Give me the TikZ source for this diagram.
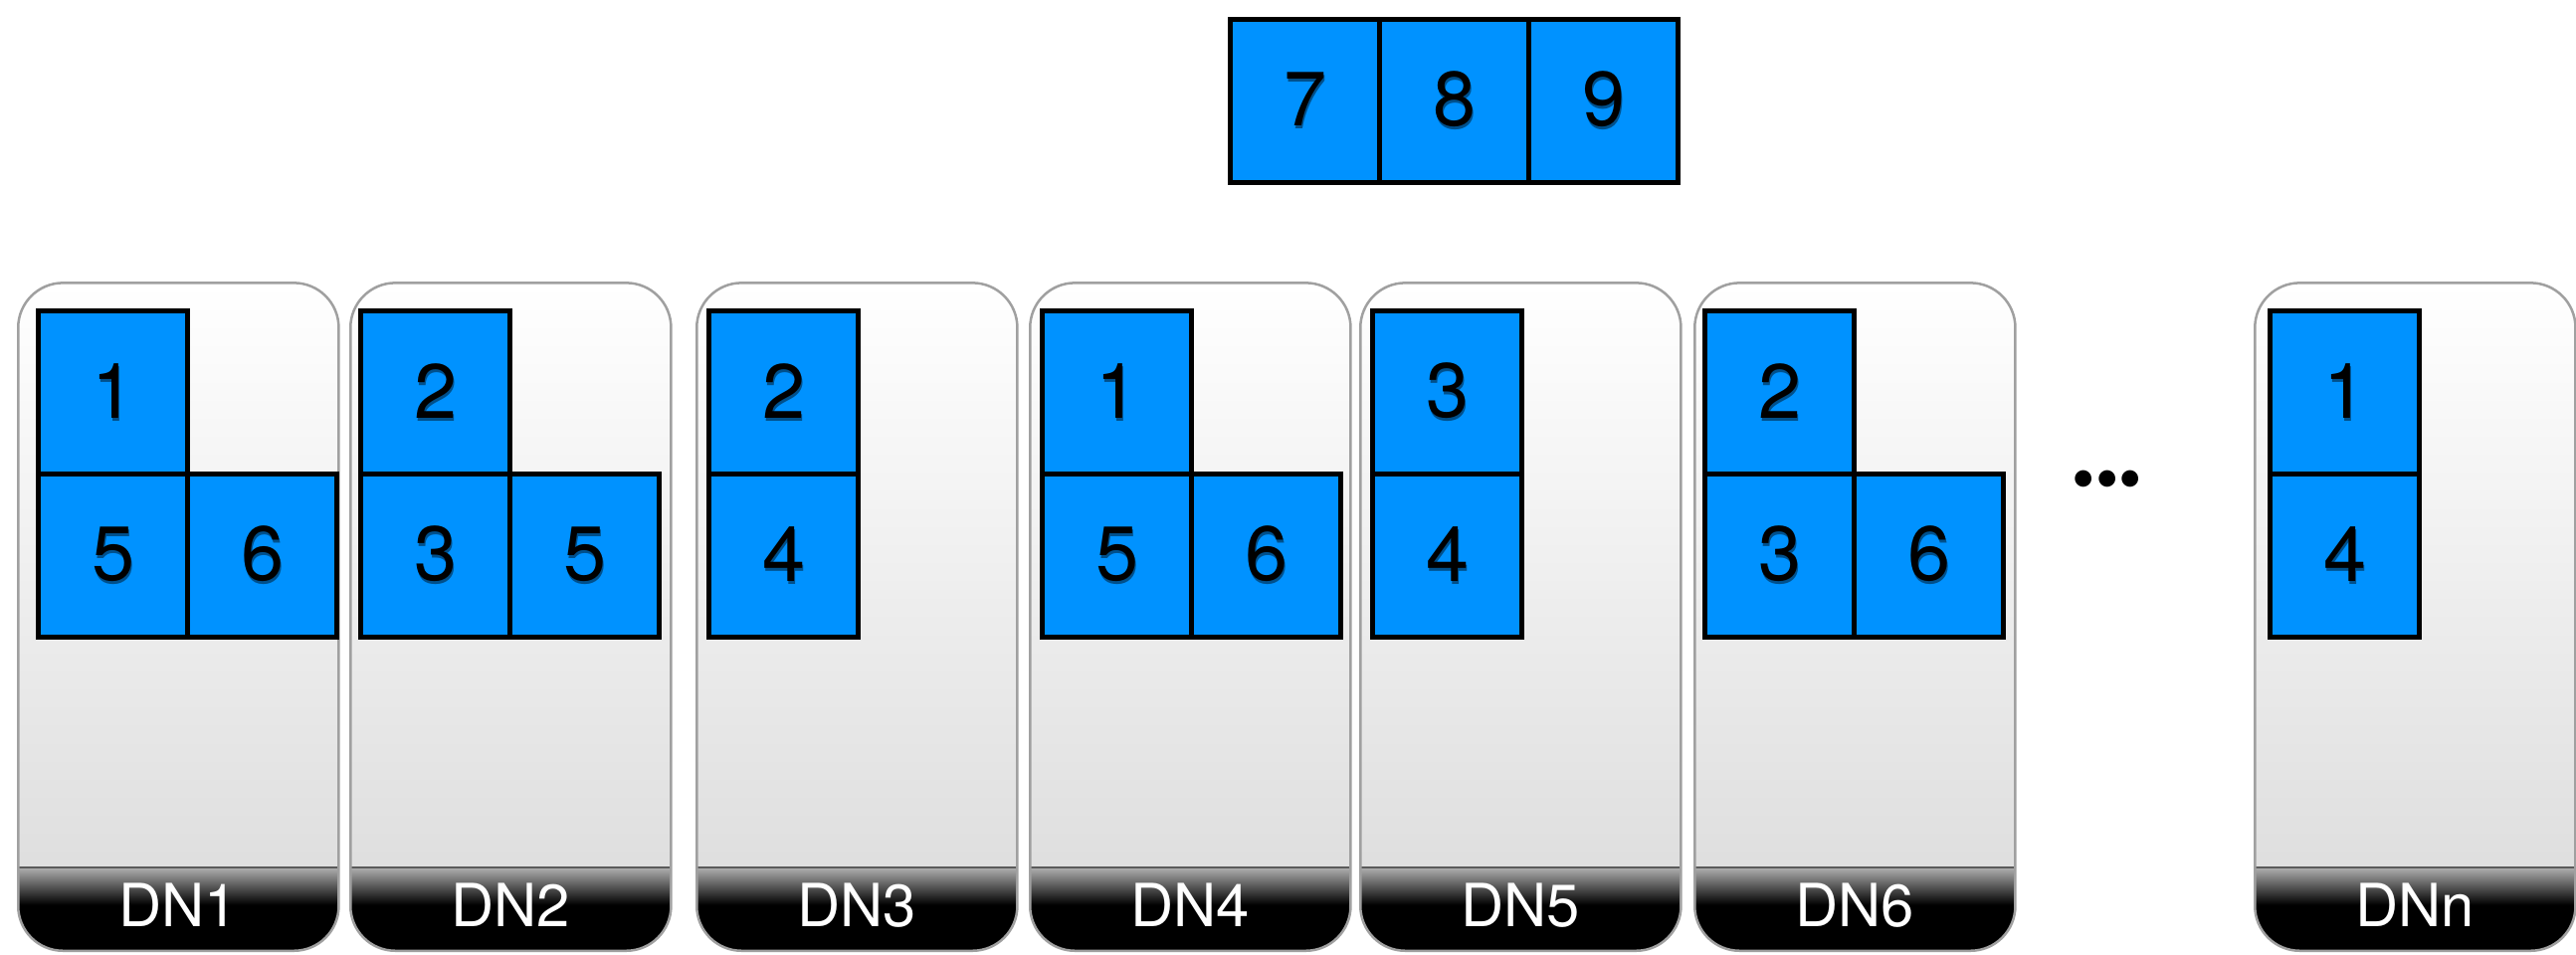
\documentclass[tikz,border=0pt]{standalone}
\usepackage{fontspec}
\setmainfont{TeX Gyre Heros}
\usetikzlibrary{calc}
\definecolor{blockblue}{HTML}{0092FF}
\definecolor{shadowblue}{HTML}{00508C}
\definecolor{cardedge}{HTML}{A0A0A0}
\definecolor{cardbot}{HTML}{DADADA}
\definecolor{bandtop}{HTML}{B0B0B0}
\definecolor{bandline}{HTML}{5A5A5A}
\newcommand\shd[1]{\rlap{\kern0.5pt\raisebox{-0.9pt}{\color{shadowblue}#1}}#1}
\tikzset{
  card/.style={draw=cardedge, line width=0.025cm, rounded corners=0.45cm,
    minimum width=3.22cm, minimum height=6.71cm, anchor=south west, inner sep=0pt,
    top color=white, bottom color=cardbot,
    path picture={
      \fill[black, sharp corners] (path picture bounding box.south west) rectangle ([yshift=0.46cm]path picture bounding box.south east);
      \shade[top color=bandtop, bottom color=black, sharp corners] ([yshift=0.46cm]path picture bounding box.south west) rectangle ([yshift=0.84cm]path picture bounding box.south east);
      \draw[bandline, line width=0.02cm, sharp corners] ([yshift=0.84cm]path picture bounding box.south west) -- ([yshift=0.84cm]path picture bounding box.south east);
    }},
  cardlabel/.style={text=white, font=\fontsize{17}{20}\selectfont, inner sep=0pt},
  blk/.style={draw=black, fill=blockblue, line width=0.05cm, minimum width=1.5cm,
    minimum height=1.64cm, anchor=north west, inner sep=0pt, font=\fontsize{22}{26}\selectfont},
}
\begin{document}
\begin{tikzpicture}[x=0.01cm, y=0.01cm]
\useasboundingbox (0,0) rectangle (2589,959);

% top blocks
\node[blk] (t7) at (1234,942) {\shd{7}};
\node[blk] (t8) at (1384,942) {\shd{8}};
\node[blk] (t9) at (1534,942) {\shd{9}};

% cards
\node[card] (dn1) at (17,2) {};
\node[card] (dn2) at (351,2) {};
\node[card] (dn3) at (699,2) {};
\node[card] (dn4) at (1034,2) {};
\node[card] (dn5) at (1366,2) {};
\node[card] (dn6) at (1702,2) {};
\node[card] (dnn) at (2265,2) {};

\node[cardlabel] (l1) at ([yshift=0.47cm]dn1.south) {DN1};
\node[cardlabel] (l2) at ([yshift=0.47cm]dn2.south) {DN2};
\node[cardlabel] (l3) at ([yshift=0.47cm]dn3.south) {DN3};
\node[cardlabel] (l4) at ([yshift=0.47cm]dn4.south) {DN4};
\node[cardlabel] (l5) at ([yshift=0.47cm]dn5.south) {DN5};
\node[cardlabel] (l6) at ([yshift=0.47cm]dn6.south) {DN6};
\node[cardlabel] (ln) at ([yshift=0.47cm]dnn.south) {DNn};

% DN1
\node[blk] (a1) at (36,649) {\shd{1}};
\node[blk] (a2) at (36,485) {\shd{5}};
\node[blk] (a3) at (186,485) {\shd{6}};
% DN2
\node[blk] (b1) at (360,649) {\shd{2}};
\node[blk] (b2) at (360,485) {\shd{3}};
\node[blk] (b3) at (510,485) {\shd{5}};
% DN3
\node[blk] (c1) at (710,649) {\shd{2}};
\node[blk] (c2) at (710,485) {\shd{4}};
% DN4
\node[blk] (d1) at (1045,649) {\shd{1}};
\node[blk] (d2) at (1045,485) {\shd{5}};
\node[blk] (d3) at (1195,485) {\shd{6}};
% DN5
\node[blk] (e1) at (1377,649) {\shd{3}};
\node[blk] (e2) at (1377,485) {\shd{4}};
% DN6
\node[blk] (f1) at (1711,649) {\shd{2}};
\node[blk] (f2) at (1711,485) {\shd{3}};
\node[blk] (f3) at (1861,485) {\shd{6}};
% DNn
\node[blk] (n1) at (2279,649) {\shd{1}};
\node[blk] (n2) at (2279,485) {\shd{4}};

\node[font=\fontsize{19}{24}\selectfont, inner sep=0pt] (dots) at (2118,470) {\textbullet\textbullet\textbullet};
\end{tikzpicture}
\end{document}
